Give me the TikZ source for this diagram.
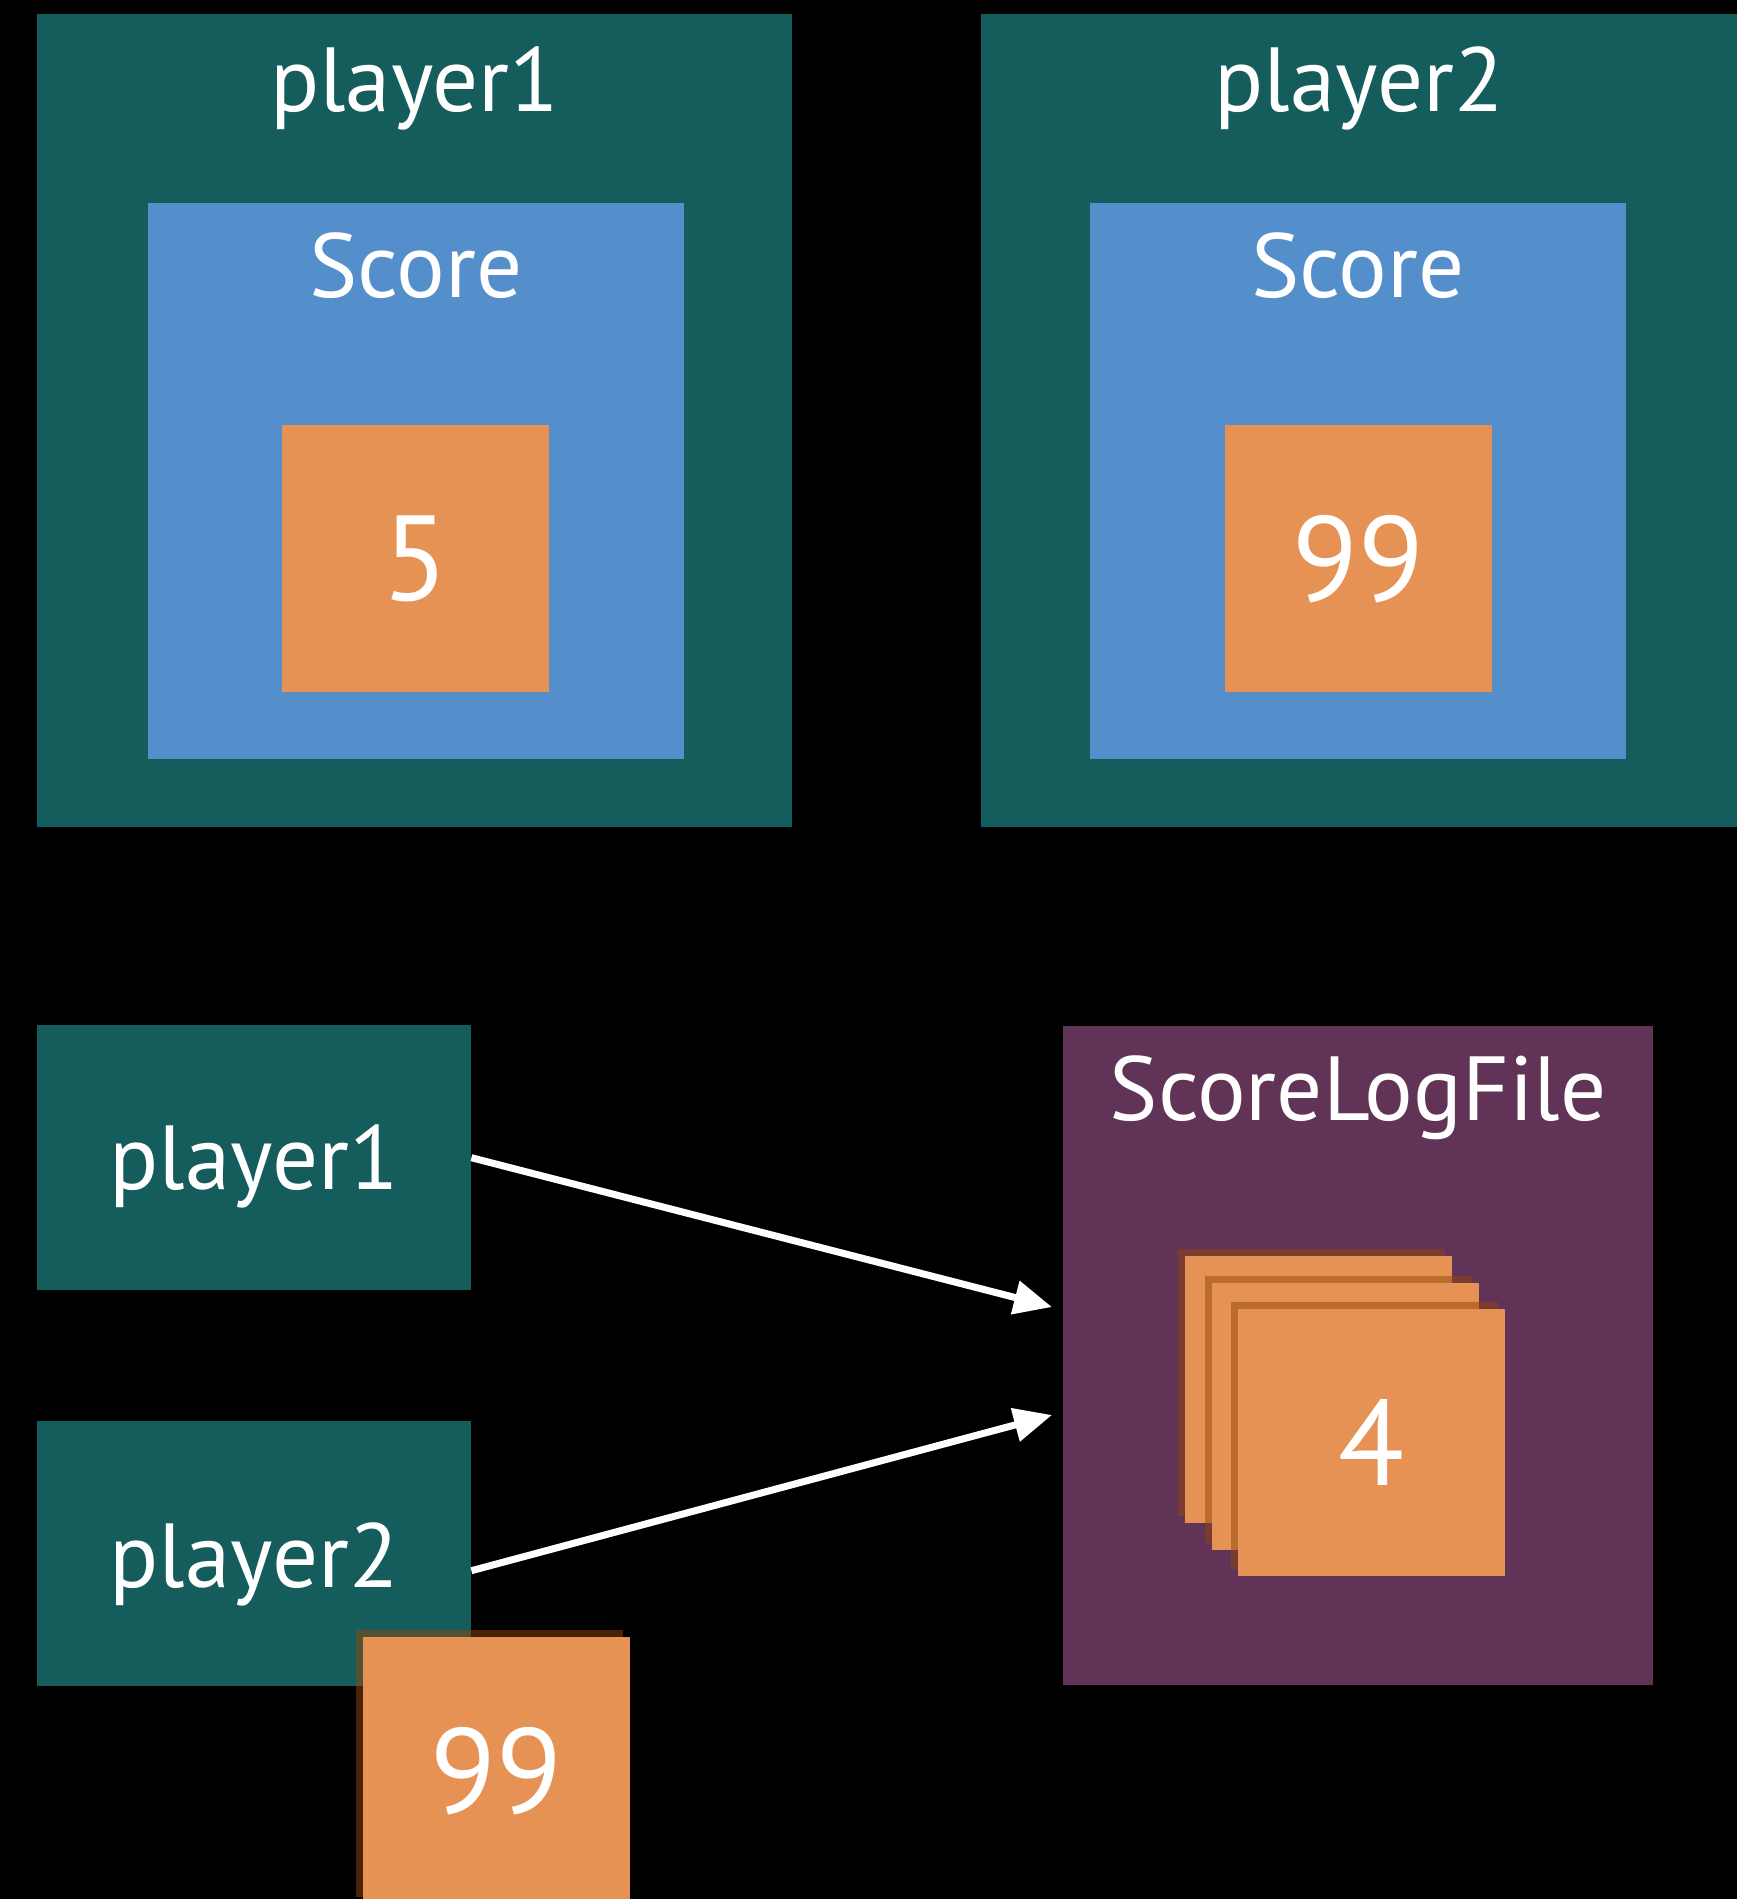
\documentclass[tikz,border=0pt]{standalone}
\usepackage{fontspec}
\setmainfont{PT Sans}
\usetikzlibrary{arrows.meta,shadows}
\definecolor{tealbox}{HTML}{155C5C}
\definecolor{scorebox}{HTML}{548FCC}
\definecolor{valbox}{HTML}{E69254}
\definecolor{logbox}{HTML}{613356}
\definecolor{shade}{HTML}{94460C}
\tikzset{
  box/.style={inner sep=0pt, anchor=north west},
  player/.style={box, fill=tealbox},
  score/.style={box, fill=scorebox, minimum width=536pt, minimum height=556pt},
  val/.style={box, fill=valbox, minimum width=267pt, minimum height=267pt,
    text=white, font=\fontsize{121}{130}\selectfont},
  card/.style={val, general shadow={fill=shade, opacity=0.5, shadow xshift=-7pt, shadow yshift=7pt}},
  title/.style={anchor=base, text=white, inner sep=0pt, font=\fontsize{91}{100}\selectfont},
  flow/.style={draw=white, line width=7pt, -{Triangle[length=38pt,width=33pt]}}
}
\begin{document}
\begin{tikzpicture}[x=1pt,y=-1pt]
 \fill[black] (0,0) rectangle (1737,1899);
 \useasboundingbox (0,0) rectangle (1737,1899);
 \clip (0,0) rectangle (1737,1899);
 % two players, each holding its own score
 \node[player, minimum width=755pt, minimum height=813pt] (pl1) at (37,14) {};
 \node[player, minimum width=756pt, minimum height=813pt] (pl2) at (981,14) {};
 \node[score] (sc1) at (148,203) {};
 \node[score] (sc2) at (1090,203) {};
 \node[val] (v1) at (282,425) {5};
 \node[val] (v2) at (1225,425) {99};
 \node[title] (t1) at (pl1.north |- 0,111) {player1};
 \node[title] (t2) at (pl2.north |- 0,111) {player2};
 \node[title] (s1) at (sc1.north |- 0,297) {Score};
 \node[title] (s2) at (sc2.north |- 0,297) {Score};
 % players writing to one log file
 \node[player, minimum width=434pt, minimum height=265pt] (p1b) at (37,1025) {};
 \node[player, minimum width=434pt, minimum height=265pt] (p2b) at (37,1421) {};
 \node[box, fill=logbox, minimum width=590pt, minimum height=659pt] (log) at (1063,1026) {};
 \node[title] (t3) at (p1b.center |- 0,1189) {player1};
 \node[title] (t4) at (p2b.center |- 0,1587) {player2};
 \node[title] (lt) at (log.north |- 0,1120) {ScoreLogFile};
 \foreach \i in {0,1} % pages behind
   \node[card] (pg\i) at ({1185+26.5*\i},{1256+26.5*\i}) {};
 \node[card] (pg2) at (1238,1309) {4};
 \node[card] (out) at (363,1637) {99};
 \coordinate (in1) at (1052,1307);
 \coordinate (in2) at (1052,1415);
 \draw[flow] (p1b.east) -- (in1);
 \draw[flow] ([yshift=-17pt]p2b.east) -- (in2);
\end{tikzpicture}
\end{document}
